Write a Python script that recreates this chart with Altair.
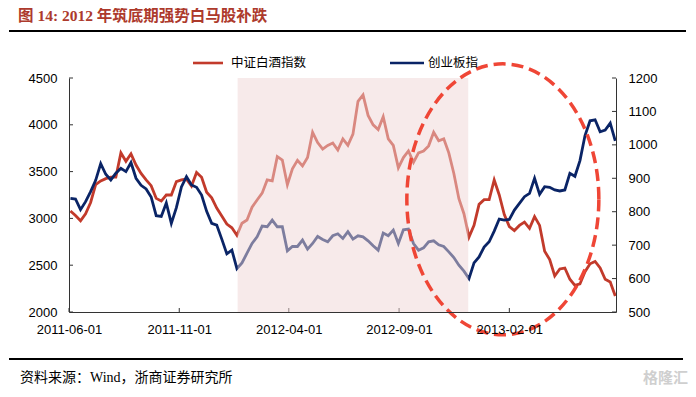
import altair as alt
import pandas as pd

# ---------------- data (weekly readings) ----------------
start_date = "2011-06-03"
baijiu = [3080, 3030, 2975, 3050, 3170, 3360, 3400, 3425, 3440, 3440,
          3700, 3610, 3690, 3570, 3480, 3411, 3350, 3214, 3185, 3250,
          3250, 3393, 3411, 3420, 3345, 3490, 3440, 3280, 3220, 3110,
          3025, 2940, 2900, 2820, 2948, 2983, 3120, 3197, 3270, 3411,
          3400, 3660, 3624, 3360, 3530, 3620, 3560, 3650, 3920, 3810,
          3740, 3780, 3805, 3730, 3850, 3780, 3900, 4250, 4319, 4100,
          4000, 3950, 4087, 3850, 3780, 3540, 3650, 3720, 3600, 3700,
          3720, 3775, 3920, 3830, 3850, 3700, 3480, 3210, 3050, 2800,
          2925, 3150, 3200, 3200, 3410, 3250, 3040, 2912, 2870, 2925,
          2960, 2894, 3019, 2925, 2650, 2560, 2385, 2460, 2470, 2350,
          2285, 2300, 2430, 2515, 2540, 2470, 2350, 2320, 2170]
cyb = [840, 838, 806, 830, 860, 894, 944, 912, 895, 915,
       930, 920, 947, 900, 879, 868, 844, 788, 786, 826,
       765, 812, 874, 905, 880, 873, 850, 801, 765, 760,
       718, 674, 685, 630, 647, 676, 705, 725, 757, 755,
       775, 755, 755, 683, 696, 696, 715, 688, 705, 726,
       717, 710, 728, 734, 720, 740, 718, 728, 725, 713,
       698, 685, 736, 728, 745, 705, 746, 748, 705, 685,
       692, 710, 713, 701, 696, 680, 663, 640, 622, 600,
       647, 665, 694, 710, 742, 778, 775, 777, 805, 825,
       845, 855, 900, 852, 875, 873, 865, 862, 865, 915,
       906, 953, 1028, 1072, 1075, 1039, 1044, 1065, 1012]

series_names = ["中证白酒指数", "创业板指"]
x_tick_dates = ["2011-06-01", "2011-11-01", "2012-04-01", "2012-09-01", "2013-02-01"]
left_ticks = [2000, 2500, 3000, 3500, 4000, 4500]
right_ticks = [500, 600, 700, 800, 900, 1000, 1100, 1200]
shade_period = ["2012-01-21", "2012-12-06"]
ellipse_center = {"date": "2013-01-23", "cyb": 837}
title_text = "图  14: 2012 年筑底期强势白马股补跌"
source_text = "资料来源：Wind，浙商证券研究所"
watermark_text = "格隆汇"

dates = pd.date_range(start_date, periods=len(baijiu), freq="7D")
df = pd.DataFrame({"date": dates.strftime("%Y-%m-%d"), "baijiu": baijiu, "cyb": cyb})

# ---------------- style ----------------
W, H = 547, 234
RED = "#C23A2B"
NAVY = "#0A2466"
PINK = "#EFD5D5"
ELL = "#EF4636"
AX = "#333333"
NUMFONT = "Liberation Sans"
CJK = "Noto Sans CJK SC"


def dt(s):
    y, m, d = [int(v) for v in s.split("-")]
    return alt.DateTime(year=y, month=m, date=d, utc=True)


xs = alt.Scale(type="utc", domain=[dt("2011-06-01"), dt("2013-06-29")])
X = alt.X("date:T", scale=xs, title=None,
          axis=alt.Axis(values=[dt(d) for d in x_tick_dates], format="%Y-%m-%d",
                        labelAngle=0, ticks=False, tickSize=0, labelPadding=11,
                        labelFont=NUMFONT, labelFontSize=13, labelColor="#000",
                        labelFlush=False, labelOverlap=False, grid=False,
                        domainColor=AX, zindex=1))
YL = alt.Y("baijiu:Q", scale=alt.Scale(domain=[2000, 4500], nice=False, zero=False), title=None,
           axis=alt.Axis(values=left_ticks, format="d", ticks=False, tickSize=0, labelPadding=12,
                         labelFont=NUMFONT, labelFontSize=13, labelColor="#000",
                         grid=False, domainColor=AX, zindex=1))
YR = alt.Y("cyb:Q", scale=alt.Scale(domain=[500, 1200], nice=False, zero=False), title=None,
           axis=alt.Axis(orient="right", values=right_ticks, format="d", ticks=False, tickSize=0,
                         labelPadding=12, labelFont=NUMFONT, labelFontSize=13, labelColor="#000",
                         grid=False, domainColor=AX, zindex=1))

one = alt.Data(values=[{"k": 1}])

red_line = alt.Chart(df).mark_line(color=RED, strokeWidth=2.8).encode(x=X, y=YL)
left_tick_marks = alt.Chart(alt.Data(values=[{"baijiu": v} for v in left_ticks])).mark_rule(
    color=AX, strokeWidth=1).encode(y=YL, x=alt.value(0), x2=alt.value(4))
x_tick_marks = alt.Chart(alt.Data(values=[{"date": d} for d in x_tick_dates])).mark_rule(
    color=AX, strokeWidth=1).encode(x=X, y=alt.value(H - 4), y2=alt.value(H))
left_group = alt.layer(red_line, left_tick_marks, x_tick_marks)

navy_line = alt.Chart(df).mark_line(color=NAVY, strokeWidth=2.8).encode(x=X, y=YR)
shade = alt.Chart(alt.Data(values=[{"date": shade_period[0], "date_end": shade_period[1]}])).mark_rect(
    color=PINK, opacity=0.5).encode(x=X, x2="date_end:T", y=alt.value(0), y2=alt.value(H))

ELLIPSE_PATH = ("M 0.7085 0 C 0.7085 0.5523 0.391 1 0 1 C -0.391 1 -0.7085 0.5523 -0.7085 0 "
                "C -0.7085 -0.5523 -0.391 -1 0 -1 C 0.391 -1 0.7085 -0.5523 0.7085 0 Z")
ellipse = alt.Chart(alt.Data(values=[ellipse_center])).mark_point(
    shape=ELLIPSE_PATH, size=73441, filled=False, stroke=ELL, strokeWidth=3.5,
    strokeDash=[12, 6], opacity=1).encode(x=X, y=YR)
right_tick_marks = alt.Chart(alt.Data(values=[{"cyb": v} for v in right_ticks])).mark_rule(
    color=AX, strokeWidth=1).encode(y=YR, x=alt.value(W - 4), x2=alt.value(W))

# legend (manual)
leg_y = -15
leg = [
    alt.Chart(one).mark_rule(color=RED, strokeWidth=2.6).encode(
        x=alt.value(124), x2=alt.value(154), y=alt.value(leg_y)),
    alt.Chart(one).mark_text(text=series_names[0], align="left", baseline="middle", font=CJK,
                             fontSize=12.5, color="#000").encode(x=alt.value(162), y=alt.value(leg_y)),
    alt.Chart(one).mark_rule(color=NAVY, strokeWidth=2.6).encode(
        x=alt.value(321), x2=alt.value(355), y=alt.value(leg_y)),
    alt.Chart(one).mark_text(text=series_names[1], align="left", baseline="middle", font=CJK,
                             fontSize=12.5, color="#000").encode(x=alt.value(359), y=alt.value(leg_y)),
]

deco = [
    alt.Chart(one).mark_text(text=title_text, align="left", baseline="middle",
                             font="Liberation Serif, Noto Sans CJK SC", fontSize=15.5,
                             fontWeight="bold", color="#AD3A2C").encode(x=alt.value(-51), y=alt.value(-62)),
    alt.Chart(one).mark_rule(color="#000", strokeWidth=2).encode(
        x=alt.value(-60), x2=alt.value(617), y=alt.value(-47)),
    alt.Chart(one).mark_rule(color="#000", strokeWidth=2).encode(
        x=alt.value(-60), x2=alt.value(614), y=alt.value(281)),
    alt.Chart(one).mark_text(text=source_text, align="left", baseline="middle",
                             font="Liberation Serif, Noto Sans CJK SC", fontSize=14,
                             color="#000").encode(x=alt.value(-49), y=alt.value(300)),
    alt.Chart(one).mark_text(text=watermark_text, align="left", baseline="middle", font=CJK,
                             fontSize=15, fontWeight="bold", color="#CFCFCF").encode(
        x=alt.value(574), y=alt.value(300)),
]

right_group = alt.layer(navy_line, shade, ellipse, right_tick_marks, *leg, *deco)

chart = alt.layer(left_group, right_group).resolve_scale(y="independent").properties(
    width=W, height=H,
    padding={"left": 61, "top": 70, "right": 72, "bottom": 77},
    autosize=alt.AutoSizeParams(type="none"),
    background="white",
).configure_view(stroke=None)

chart.save("out.html", embed_options={"renderer": "svg", "actions": False})
